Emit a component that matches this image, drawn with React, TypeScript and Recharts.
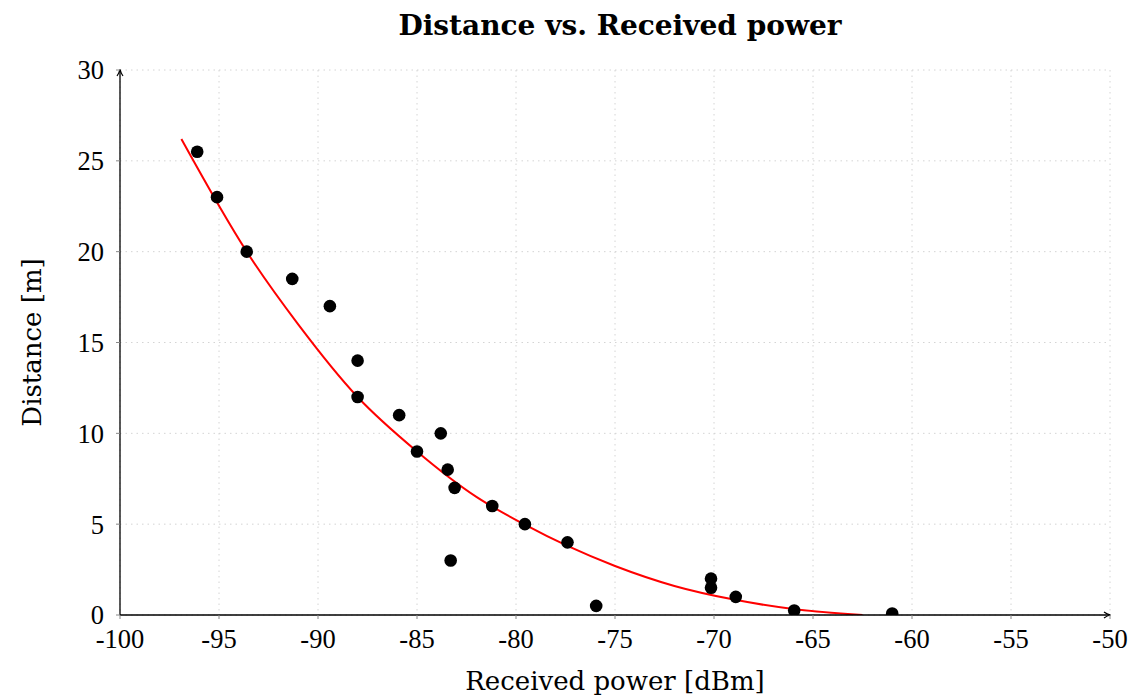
import React from "react";
import {
  ComposedChart,
  Line,
  Scatter,
  XAxis,
  YAxis,
  CartesianGrid,
} from "recharts";

// measured samples (dBm, m)
const measuredPower = [
  -96.1, -95.1, -93.6, -91.3, -89.4, -88.0, -88.0, -85.9, -85.0, -83.8, -83.45,
  -83.1, -83.3, -81.2, -79.55, -77.4, -75.95, -70.15, -70.15, -68.9, -65.95, -61.0,
];
const measuredDistance = [
  25.5, 23, 20, 18.5, 17, 14, 12, 11, 9, 10, 8,
  7, 3, 6, 5, 4, 0.5, 2, 1.5, 1, 0.25, 0.08,
];

// fitted curve
const fitPower = [
  -96.9, -93.6, -91.0, -88.0, -85.0, -82.0, -79.6, -77.4, -75.0, -72.0, -69.0, -66.0, -62.5,
];
const fitDistance = [
  26.2, 20.0, 16.0, 12.0, 9.0, 6.5, 5.0, 3.8, 2.7, 1.6, 0.85, 0.33, 0,
];

const xTicks = [-100, -95, -90, -85, -80, -75, -70, -65, -60, -55, -50];
const yTicks = [0, 5, 10, 15, 20, 25, 30];

const points = measuredPower.map((x, i) => ({ x, y: measuredDistance[i] }));
const curve = fitPower.map((x, i) => ({ x, y: fitDistance[i] }));

const TICK_FONT = "'Liberation Serif', serif";
const LABEL_FONT = "'DejaVu Serif', serif";
const tickStyle = { fontFamily: TICK_FONT, fontSize: 26.5, fill: "#000" };

const App = () => {
  return (
    <div style={{ position: "absolute", left: 0, top: 0, width: 1133, height: 695, background: "#fff" }}>
      <svg width={0} height={0} style={{ position: "absolute" }}>
        <defs>
          <marker id="axisArrow" viewBox="0 0 8 8" refX="7" refY="4" markerWidth="8" markerHeight="8"
            markerUnits="userSpaceOnUse" orient="auto-start-reverse">
            <path d="M1,1 Q4,3.2 7.5,4 Q4,4.8 1,7" fill="none" stroke="#000" strokeWidth={1.2} />
          </marker>
        </defs>
      </svg>
      <div
        style={{
          position: "absolute",
          left: 0,
          width: 1240,
          top: 9,
          textAlign: "center",
          fontFamily: LABEL_FONT,
          fontWeight: "bold",
          fontSize: 28,
          lineHeight: "normal",
          whiteSpace: "nowrap",
        }}
      >
        Distance vs. Received power
      </div>
      <ComposedChart
        width={1133}
        height={695}
        margin={{ top: 70, right: 23, bottom: 0, left: 0 }}
      >
        <CartesianGrid stroke="#d4d4d4" strokeDasharray="1.5 4" />
        <XAxis
          type="number"
          dataKey="x"
          domain={[-100, -50]}
          ticks={xTicks}
          allowDataOverflow
          height={80}
          tick={tickStyle}
          tickSize={4}
          tickMargin={10}
          tickLine={{ stroke: "#888" }}
          axisLine={{ stroke: "#000", strokeWidth: 1.3, markerEnd: "url(#axisArrow)" }}
          label={{
            value: "Received power [dBm]",
            position: "insideBottom",
            offset: 5,
            style: { fontFamily: LABEL_FONT, fontSize: 26, fill: "#000" },
          }}
        />
        <YAxis
          type="number"
          dataKey="y"
          domain={[0, 30]}
          ticks={yTicks}
          allowDataOverflow
          width={120}
          tick={tickStyle}
          tickSize={4}
          tickMargin={12}
          tickLine={{ stroke: "#888" }}
          axisLine={{ stroke: "#000", strokeWidth: 1.3, markerStart: "url(#axisArrow)" }}
          label={{
            value: "Distance [m]",
            angle: -90,
            position: "insideLeft",
            offset: 32,
            style: { fontFamily: LABEL_FONT, fontSize: 26, fill: "#000", textAnchor: "middle" },
          }}
        />
        <Line
          data={curve}
          dataKey="y"
          type="monotone"
          stroke="#ff0000"
          strokeWidth={2}
          dot={false}
          activeDot={false}
          isAnimationActive={false}
        />
        <Scatter
          data={points}
          dataKey="y"
          fill="#000"
          shape={(p: any) => <circle cx={p.cx} cy={p.cy} r={6.3} fill="#000" />}
          isAnimationActive={false}
        />
      </ComposedChart>
    </div>
  );
};

export default App;
